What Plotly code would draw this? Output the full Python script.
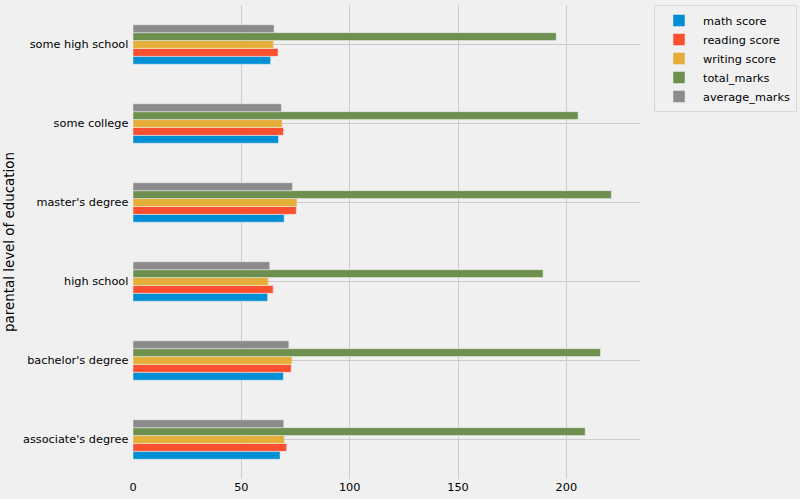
import plotly.graph_objects as go

categories = ["associate's degree", "bachelor's degree", "high school",
              "master's degree", "some college", "some high school"]
math_score = [67.88, 69.39, 62.14, 69.75, 67.13, 63.50]
reading_score = [70.93, 73.00, 64.70, 75.37, 69.46, 66.94]
writing_score = [69.90, 73.38, 62.45, 75.68, 68.84, 64.89]
total_marks = [208.71, 215.77, 189.29, 220.80, 205.43, 195.32]
average_marks = [69.57, 71.92, 63.10, 73.60, 68.48, 65.11]

series = [
    ("math score", math_score, "#008fd5"),
    ("reading score", reading_score, "#fc4f30"),
    ("writing score", writing_score, "#e5ae38"),
    ("total_marks", total_marks, "#6d904f"),
    ("average_marks", average_marks, "#8b8b8b"),
]

fig = go.Figure()
for name, vals, col in series:
    fig.add_trace(go.Bar(
        y=categories, x=vals, name=name, orientation="h",
        marker=dict(color=col, line=dict(color="#f0f0f0", width=0.5)),
    ))

font = "DejaVu Sans, sans-serif"
fs = 11.3
fig.update_layout(
    width=800, height=499,
    barmode="group", bargap=0.5, bargroupgap=0,
    paper_bgcolor="#f0f0f0", plot_bgcolor="#f0f0f0",
    margin=dict(l=133, r=160, t=5, b=20, autoexpand=False),
    font=dict(family=font, size=fs, color="#000000"),
    showlegend=True,
    legend=dict(
        x=1.0276, y=1.0, xanchor="left", yanchor="top",
        bgcolor="#f0f0f0", bordercolor="#d8d8d8", borderwidth=1,
        font=dict(family=font, size=fs), traceorder="normal",
        itemwidth=38, tracegroupgap=0,
    ),
    xaxis=dict(
        range=[0, 234], tickvals=[0, 50, 100, 150, 200],
        showgrid=True, gridcolor="#cbcbcb", gridwidth=1,
        zeroline=False, showline=False, ticks="",
        automargin=False,
        tickfont=dict(family=font, size=fs),
    ),
    yaxis=dict(
        categoryorder="array", categoryarray=categories,
        range=[-0.5, 5.5],
        showgrid=True, gridcolor="#cbcbcb", gridwidth=1,
        zeroline=False, showline=False, ticks="",
        ticksuffix=" ", automargin=False,
        title=dict(text="parental level of education", font=dict(family=font, size=13.4), standoff=5),
        tickfont=dict(family=font, size=fs),
    ),
)

fig.write_html(
    "out.html",
    config={"displayModeBar": False},
    post_script="document.body.style.margin='0px';document.body.style.background='#f0f0f0';",
)
